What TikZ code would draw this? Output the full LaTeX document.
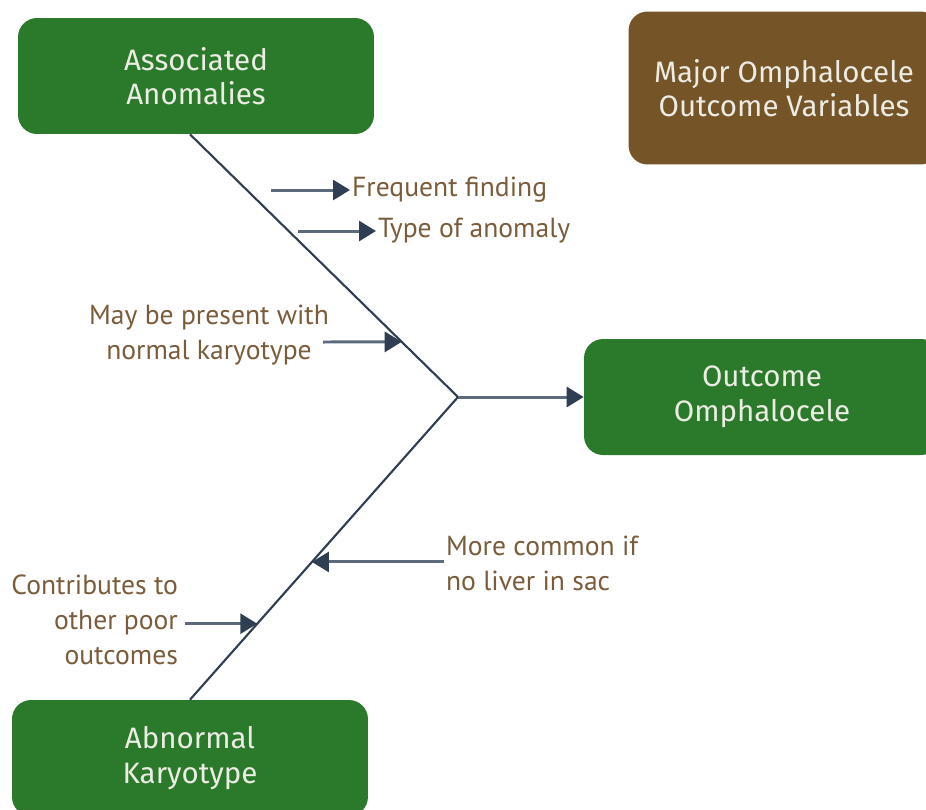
\documentclass[tikz,border=0pt]{standalone}
\usepackage{fontspec}
\setmainfont{PT Sans}
\newfontfamily\boxfont{Fira Sans}
\usetikzlibrary{arrows.meta,calc}
\definecolor{boxgreen}{RGB}{43,122,43}
\definecolor{boxbrown}{RGB}{117,84,40}
\definecolor{labelbrown}{RGB}{122,92,58}
\definecolor{bonecol}{RGB}{47,62,82}
\definecolor{ribcol}{RGB}{92,106,126}
\definecolor{boxtext}{RGB}{236,236,228}

\begin{document}
\begin{tikzpicture}[x=0.02cm,y=-0.02cm,
    every node/.style={font=\fontsize{15.7}{19.8}\selectfont,text=labelbrown,inner sep=1pt},
    cause/.style={fill=boxgreen,rounded corners=0.38cm,text=boxtext,align=center,
      font=\boxfont\fontsize{16.8}{19.6}\selectfont,minimum width=7.12cm,minimum height=2.32cm},
    header/.style={cause,fill=boxbrown,minimum width=6.22cm,minimum height=3.06cm},
    bone/.style={draw=bonecol,line width=1.2pt},
    rib/.style={draw=ribcol,line width=1.7pt,-{Triangle[length=0.34cm,width=0.4cm,color=bonecol]}}]
    \useasboundingbox (0,0) rectangle (926,809);

    % Boxes
    \node[cause] (assoc) at (196,76) {Associated\\Anomalies};
    \node[header] (major) at (784,88) {Major Omphalocele\\Outcome Variables};
    \node[cause] (outcome) at (762,397) {Outcome\\Omphalocele};
    \node[cause] (karyo) at (190,758) {Abnormal\\Karyotype};

    % Spine
    \coordinate (hub) at (458,397);
    \coordinate (top) at ([xshift=-0.12cm]assoc.south);
    \coordinate (bot) at (karyo.north);
    \draw[bone] (top) -- (hub) -- (bot);
    \draw[rib] (hub) -- (outcome.west);

    % Upper causes
    \node[anchor=west] (freq) at (350,190) {Frequent finding};
    \coordinate (freqtail) at (271,190);
    \draw[rib] (freqtail) -- (freq.west);
    \node[anchor=west] (type) at (376,231) {Type of anomaly};
    \coordinate (typetail) at (298,231);
    \draw[rib] (typetail) -- (type.west);

    \node[align=center] (normal) at (209,335) {May be present with\\normal karyotype};
    \coordinate (normaltip) at ($(top)!0.79!(hub)$);
    \coordinate (normaltail) at (323,342);
    \draw[rib] (normaltail) -- (normaltip);

    % Lower causes
    \node[align=left,anchor=west] (liver) at (444,563) {More common if\\no liver in sac};
    \coordinate (livertip) at ($(hub)!0.545!(bot)$);
    \draw[rib] (liver.west |- livertip) -- (livertip);

    \node[align=right,anchor=east] (poor) at (180,620) {Contributes to\\other poor\\outcomes};
    \coordinate (poortip) at ($(hub)!0.749!(bot)$);
    \draw[rib] ([xshift=0.1cm]poor.east |- poortip) -- (poortip);
\end{tikzpicture}
\end{document}
